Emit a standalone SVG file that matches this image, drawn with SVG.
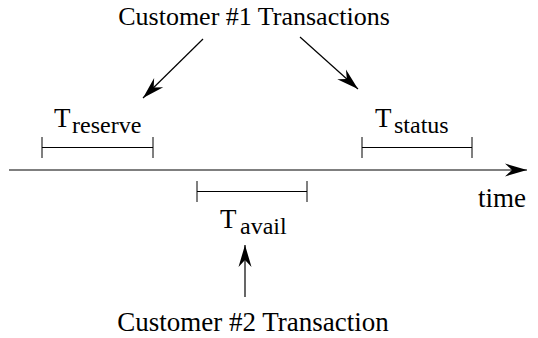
<svg xmlns="http://www.w3.org/2000/svg" width="538" height="338" viewBox="0 0 538 338">
  <style>
    text { font-family: "Liberation Serif", "Times New Roman", Tinos, "DejaVu Serif", serif; fill: #000; }
    .big { font-size: 27px; }
    .head1 { font-size: 26px; }
    .sub { font-size: 24px; }
    .ln { stroke: #000; stroke-width: 1.2; fill: none; }
    .tick { stroke: #000; stroke-width: 1; fill: none; }
  </style>
  <defs>
    <marker id="head" markerUnits="userSpaceOnUse" markerWidth="26" markerHeight="16" viewBox="-23 -8 24 16" refX="0" refY="0" orient="auto">
      <path d="M0,0 L-22,-6.5 L-15,0 L-22,6.5 Z" fill="#000"/>
    </marker>
  </defs>

  <g id="connectors">
    <line class="ln" x1="203" y1="39" x2="143" y2="98" marker-end="url(#head)"/>
    <line class="ln" x1="300" y1="37" x2="358" y2="89" marker-end="url(#head)"/>
    <line class="ln" x1="245" y1="297" x2="245" y2="245" marker-end="url(#head)"/>
  </g>

  <g id="axis">
    <line class="ln" x1="9" y1="170" x2="527" y2="170" marker-end="url(#head)"/>
    <text class="big" x="478" y="207">time</text>
  </g>

  <g id="title-customer1">
    <text class="head1" x="254" y="25" text-anchor="middle">Customer #1 Transactions</text>
  </g>

  <g id="t-reserve">
    <path class="tick" d="M42,137 V158 M153,137 V158"/>
    <line class="tick" x1="42" y1="147.5" x2="153" y2="147.5"/>
    <text class="big" x="54" y="127">T</text>
    <text class="sub" x="72" y="133">reserve</text>
  </g>

  <g id="t-status">
    <path class="tick" d="M362,137 V158 M472,137 V158"/>
    <line class="tick" x1="362" y1="147.5" x2="472" y2="147.5"/>
    <text class="big" x="375" y="127">T</text>
    <text class="sub" x="394" y="133">status</text>
  </g>

  <g id="t-avail">
    <path class="tick" d="M197,181 V202 M307,181 V202"/>
    <line class="tick" x1="197" y1="191.5" x2="307" y2="191.5"/>
    <text class="big" x="220" y="228">T</text>
    <text class="sub" x="240" y="234">avail</text>
  </g>

  <g id="title-customer2">
    <text class="big" x="253" y="331" text-anchor="middle">Customer #2 Transaction</text>
  </g>
</svg>
